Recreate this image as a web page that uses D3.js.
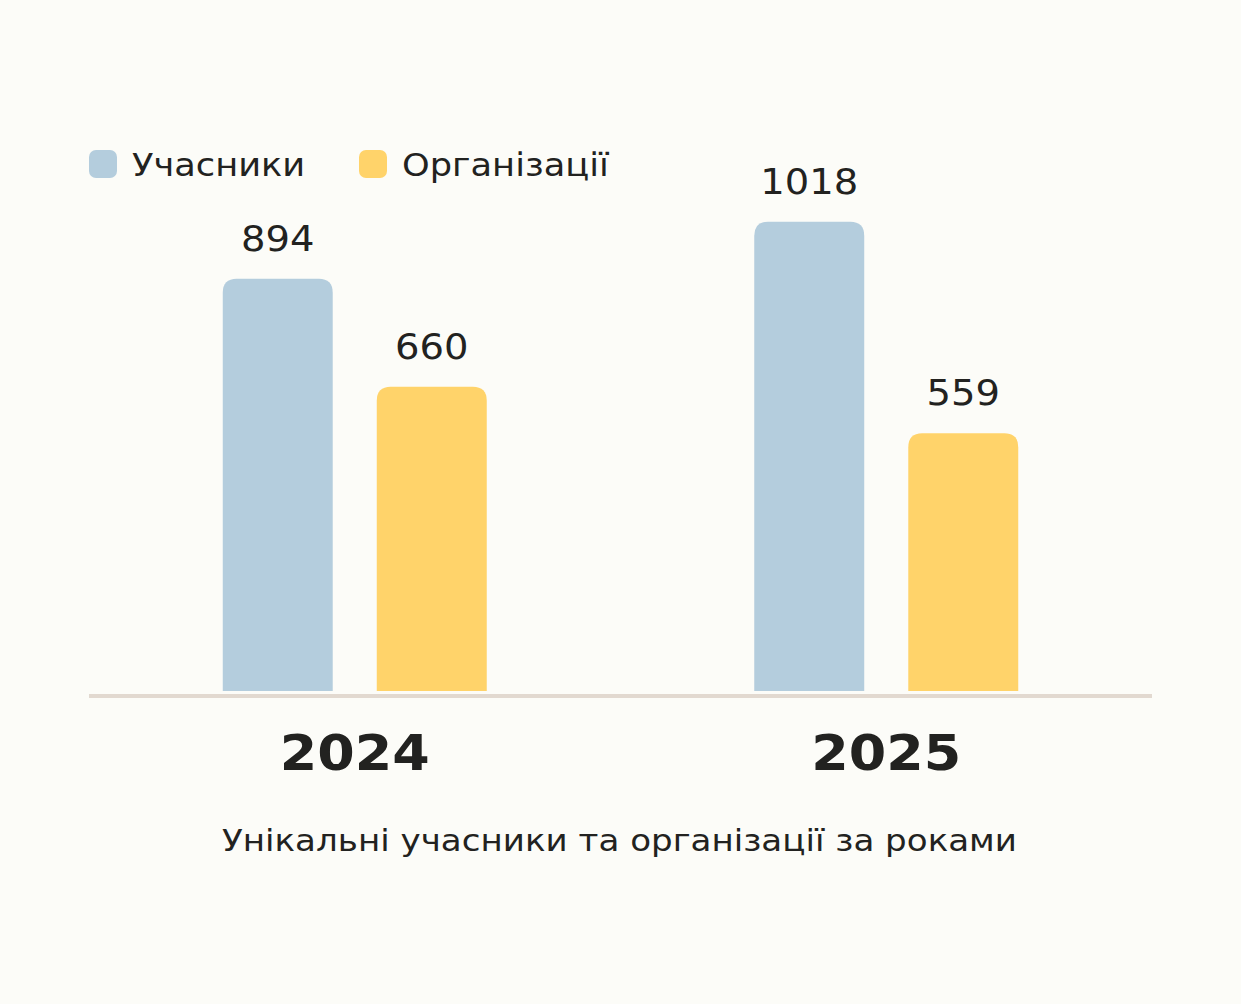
<!DOCTYPE html>
<html>
<head>
<meta charset="utf-8">
<script src="https://cdn.jsdelivr.net/npm/d3@7"></script>
<style>
  html, body { margin: 0; padding: 0; background: #fcfcf8; }
  svg { display: block; }
  text { font-family: "DejaVu Sans", sans-serif; fill: #222220; }
</style>
</head>
<body>
<div id="chart"></div>
<script>
// дані
const years = ['2024', '2025'];
const series = ['Учасники', 'Організації'];
const participants = [894, 1018];
const organisations = [660, 559];
const title = 'Унікальні учасники та організації за роками';

const W = 1241, H = 1004;
const COLORS = { 'Учасники': '#b4cddd', 'Організації': '#ffd36a' };
const BASE_Y = 691;
const STRETCH = 1.1; // горизонтальне розтягування шрифту (оригінал — широкий гротеск)

const rows = years.map((y, i) => ({ year: y, values: [
  { key: series[0], value: participants[i] },
  { key: series[1], value: organisations[i] }
]}));

const svg = d3.select('#chart').append('svg')
  .attr('width', W).attr('height', H);

const x0 = d3.scaleBand().domain(years).range([89, 1152]).padding(0);
const y = d3.scaleLinear().domain([0, 1100]).range([BASE_Y, BASE_Y - 1100 * 0.461]);

// скруглений верх
function topRounded(x, yt, w, h, r) {
  r = Math.min(r, h, w / 2);
  return `M${x},${yt + h} L${x},${yt + r} Q${x},${yt} ${x + r},${yt} L${x + w - r},${yt} Q${x + w},${yt} ${x + w},${yt + r} L${x + w},${yt + h} Z`;
}

function stretchText(sel, k) {
  sel.each(function () {
    const t = d3.select(this);
    const len = this.getComputedTextLength();
    t.attr('textLength', len * k).attr('lengthAdjust', 'spacingAndGlyphs');
  });
}

const groups = svg.selectAll('g.year').data(rows).join('g')
  .attr('class', 'year');

groups.each(function (d) {
  const c = x0(d.year) + x0.bandwidth() / 2;
  const x1 = d3.scaleBand().domain(series).range([c - 132, c + 132]).paddingInner(0.286);
  const g = d3.select(this);
  g.selectAll('path.bar').data(d.values).join('path')
    .attr('class', 'bar')
    .attr('fill', v => COLORS[v.key])
    .attr('d', v => topRounded(x1(v.key), y(v.value), x1.bandwidth(), BASE_Y - y(v.value), 14));
  g.selectAll('text.val').data(d.values).join('text')
    .attr('class', 'val')
    .attr('x', v => x1(v.key) + x1.bandwidth() / 2)
    .attr('y', v => y(v.value) - 28)
    .attr('text-anchor', 'middle')
    .attr('font-size', 35)
    .attr('font-weight', 500)
    .text(v => v.value);
});

// базова лінія
svg.append('line')
  .attr('x1', 89).attr('x2', 1152)
  .attr('y1', BASE_Y + 5).attr('y2', BASE_Y + 5)
  .attr('stroke', '#e2d9d0').attr('stroke-width', 4);

// підписи років
svg.selectAll('text.yr').data(years).join('text')
  .attr('class', 'yr')
  .attr('x', d => x0(d) + x0.bandwidth() / 2)
  .attr('y', 770)
  .attr('text-anchor', 'middle')
  .attr('font-size', 49)
  .attr('font-weight', 600)
  .text(d => d);

// легенда
const leg = svg.append('g').attr('class', 'legend');
const legX = [89, 359];
series.forEach((s, i) => {
  leg.append('rect')
    .attr('x', legX[i]).attr('y', 150).attr('width', 28).attr('height', 28)
    .attr('rx', 7).attr('fill', COLORS[s]);
  leg.append('text')
    .attr('x', legX[i] + 43).attr('y', 176)
    .attr('font-size', 32)
    .attr('font-weight', 500)
    .text(s);
});

// заголовок
svg.append('text')
  .attr('x', W / 2 - 1).attr('y', 851)
  .attr('text-anchor', 'middle')
  .attr('font-size', 31)
  .attr('font-weight', 500)
  .text(title);

svg.selectAll('text').call(stretchText, STRETCH);
</script>
</body>
</html>
